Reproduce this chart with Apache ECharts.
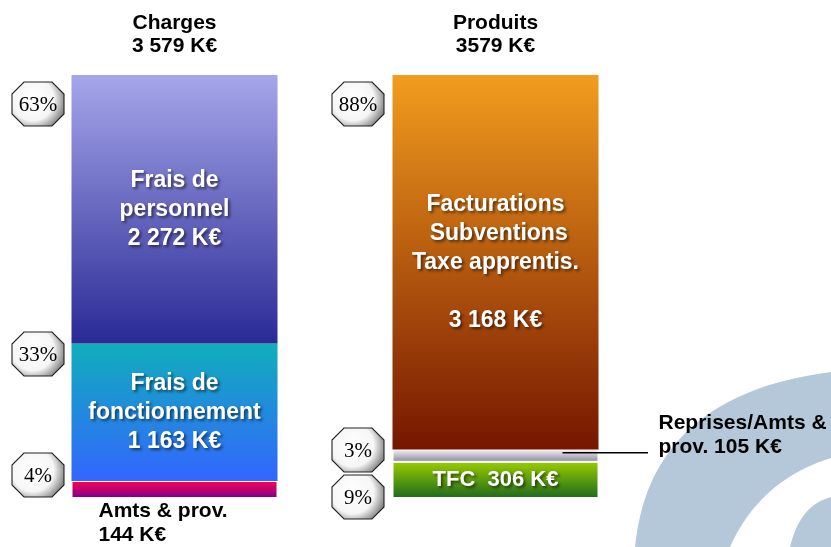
<!DOCTYPE html>
<html>
<head>
<meta charset="utf-8">
<script src="https://cdn.jsdelivr.net/npm/echarts@6/dist/echarts.min.js"></script>
<style>
  html, body { margin: 0; padding: 0; background: #fff; }
  #main { width: 831px; height: 547px; }
</style>
</head>
<body>
<div id="main"></div>
<script>
// categories (column titles on top)
const categories = ['Charges', 'Produits'];
const catTitles = ['Charges\n3 579 K€', 'Produits\n3579 K€'];

// stacked segments, bottom to top
const bottomVals = [144, 306];
const middleVals = [1163, 105];
const topVals = [2272, 3168];

const bottomLabels = ['Amts & prov.\n144 K€', 'TFC  306 K€'];
const middleLabels = ['Frais de\nfonctionnement\n1 163 K€', 'Reprises/Amts &\nprov. 105 K€'];
const topLabels = ['Frais de\npersonnel\n2 272 K€', 'Facturations\n Subventions\nTaxe apprentis.\n\n3 168 K€'];

// percentage badges
const pctLabels = ['63%', '33%', '4%', '88%', '3%', '9%'];

const chart = echarts.init(document.getElementById('main'));

function grad(c1, c2) {
  return {
    type: 'linear', x: 0, y: 0, x2: 0, y2: 1,
    colorStops: [{ offset: 0, color: c1 }, { offset: 1, color: c2 }]
  };
}

const whiteLabel = {
  show: true,
  position: 'inside',
  color: '#fff',
  fontFamily: 'Liberation Sans',
  fontWeight: 'bold',
  fontSize: 23,
  lineHeight: 29,
  textShadowColor: 'rgba(0,0,0,0.55)',
  textShadowBlur: 3,
  textShadowOffsetX: 2,
  textShadowOffsetY: 2
};
const blackLabel = {
  show: true,
  color: '#000',
  fontFamily: 'Liberation Sans',
  fontWeight: 'bold',
  fontSize: 21,
  lineHeight: 24,
  align: 'left',
  verticalAlign: 'top'
};

const bottomColors = [grad('#ff0050', '#7a0090'), grad('#99cc00', '#1e6a1e')];
const middleColors = [grad('#10aebb', '#3366ff'), grad('#f2f2f6', '#8a8aa0')];
const topColors = [grad('#a6a6ea', '#2a2a96'), grad('#f29d1e', '#761600')];

const option = {
  animation: false,
  grid: { left: 14, width: 642, top: 75, bottom: 49 },
  xAxis: {
    type: 'category',
    position: 'top',
    data: categories,
    axisLine: { show: false },
    axisTick: { show: false },
    axisLabel: {
      margin: 17,
      color: '#000',
      fontFamily: 'Liberation Sans',
      fontWeight: 'bold',
      fontSize: 21,
      lineHeight: 23,
      formatter: (v, i) => catTitles[i]
    }
  },
  yAxis: { type: 'value', min: 0, max: 3579, show: false },
  series: [
    {
      type: 'bar', stack: 'tot', barWidth: 206,
      data: bottomVals.map((v, i) => ({
        value: v,
        itemStyle: { color: bottomColors[i], borderColor: '#fff', borderWidth: 1 },
        label: i === 0
          ? Object.assign({}, blackLabel, { position: [27, 18], formatter: bottomLabels[i] })
          : Object.assign({}, whiteLabel, { fontSize: 22, formatter: bottomLabels[i] })
      }))
    },
    {
      type: 'bar', stack: 'tot', barWidth: 206,
      data: middleVals.map((v, i) => ({
        value: v,
        itemStyle: i === 1
          ? { color: middleColors[i], borderColor: '#fff', borderWidth: 1 }
          : { color: middleColors[i] },
        label: i === 1
          ? Object.assign({}, blackLabel, { position: [266, -38], formatter: middleLabels[i] })
          : Object.assign({}, whiteLabel, { formatter: middleLabels[i] })
      }))
    },
    {
      type: 'bar', stack: 'tot', barWidth: 206,
      data: topVals.map((v, i) => ({
        value: v,
        itemStyle: { color: topColors[i] },
        label: Object.assign({}, whiteLabel, { formatter: topLabels[i] })
      }))
    }
  ]
};
chart.setOption(option);

// decorations: background arcs, badges, leader line
function quad(p0, c, p1, n) {
  const pts = [];
  for (let k = 0; k <= n; k++) {
    const t = k / n, u = 1 - t;
    pts.push([u * u * p0[0] + 2 * u * t * c[0] + t * t * p1[0],
              u * u * p0[1] + 2 * u * t * c[1] + t * t * p1[1]]);
  }
  return pts;
}
const arc1 = quad([635, 547], [650, 395], [831, 372], 30)
  .concat(quad([831, 458], [760, 480], [730, 547], 30));
const arc2 = quad([790, 547], [800, 505], [831, 497], 20).concat([[831, 547]]);

const badgeCenters = [[38, 104], [38, 354], [38, 475], [358, 104], [358, 450], [358, 497]];
function octagon(cx, cy, w, h, c) {
  const l = cx - w / 2, r = cx + w / 2, t = cy - h / 2, b = cy + h / 2;
  return [[l + c, t], [r - c, t], [r, t + c], [r, b - c], [r - c, b], [l + c, b], [l, b - c], [l, t + c]];
}
const graphics = [
  { type: 'polygon', z: -10, silent: true, shape: { points: arc1 }, style: { fill: '#b4c8da' } },
  { type: 'polygon', z: -10, silent: true, shape: { points: arc2 }, style: { fill: '#b4c8da' } }
];
badgeCenters.forEach((p, i) => {
  graphics.push({
    type: 'polygon', z: 10,
    shape: { points: octagon(p[0], p[1], 52, 44, 12) },
    style: {
      fill: {
        type: 'radial', x: 0.4, y: 0.4, r: 0.72,
        colorStops: [
          { offset: 0, color: '#ffffff' },
          { offset: 0.65, color: '#f6f6f6' },
          { offset: 1, color: '#888888' }
        ]
      },
      stroke: '#222', lineWidth: 1.1
    }
  });
  graphics.push({
    type: 'text', z: 11,
    style: {
      text: pctLabels[i], x: p[0], y: p[1] + 1,
      textAlign: 'center', textVerticalAlign: 'middle',
      font: '21px "Liberation Serif"', fill: '#000'
    }
  });
});
const repPt = chart.convertToPixel({ gridIndex: 0 }, [1, bottomVals[1] + middleVals[1] / 2]);
graphics.push({
  type: 'line', z: 12,
  shape: { x1: repPt[0] + 67, y1: repPt[1] - 3, x2: 648, y2: repPt[1] - 3 },
  style: { stroke: '#000', lineWidth: 1.5 }
});
chart.setOption({ graphic: graphics });
</script>
</body>
</html>
